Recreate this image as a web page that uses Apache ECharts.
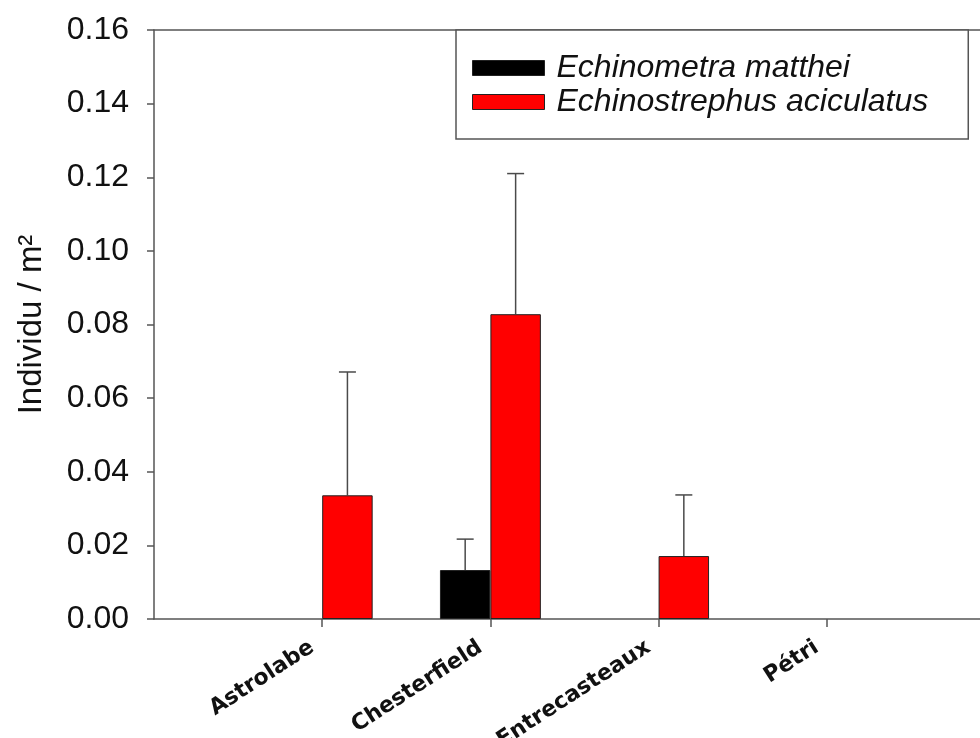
<!DOCTYPE html>
<html>
<head>
<meta charset="utf-8">
<script src="https://cdn.jsdelivr.net/npm/echarts@6/dist/echarts.min.js"></script>
<style>
html,body{margin:0;padding:0;background:#fff;}
#chart{width:980px;height:738px;}
</style>
</head>
<body>
<div id="chart"></div>
<script>
// Data
const sites = ['Astrolabe', 'Chesterfield', 'Entrecasteaux', 'Pétri'];
const seriesNames = ['Echinometra matthei', 'Echinostrephus aciculatus'];
const matthei = [0, 0.0133, 0, 0];
const mattheiErr = [0, 0.0084, 0, 0];
const aciculatus = [0.0336, 0.0828, 0.0171, 0];
const aciculatusErr = [0.0335, 0.0382, 0.0166, 0];
const yTicks = [0, 0.02, 0.04, 0.06, 0.08, 0.10, 0.12, 0.14, 0.16];
const yTitle = 'Individu / m²';

// axis categories padded with blank slots on both ends
const axisCats = [' '].concat(sites).concat(['  ']);

function barData(vals) {
  return vals.map((v, i) => v === 0
    ? { value: [i + 1, v], itemStyle: { borderWidth: 0 } }
    : [i + 1, v]);
}
function errData(vals, errs) { return vals.map((v, i) => [i + 1, v, errs[i]]); }

function errRenderer(sign) {
  return function (params, api) {
    const e = api.value(2);
    if (!e) return null;
    const idx = api.value(0), v = api.value(1);
    const band = api.size([1, 0])[0];
    const off = sign * band * 0.15;
    const p0 = api.coord([idx, v]);
    const p1 = api.coord([idx, v + e]);
    const x = p0[0] + off;
    const cap = 8.5;
    const st = { stroke: '#4a4a4a', lineWidth: 1.5 };
    return {
      type: 'group',
      children: [
        { type: 'line', shape: { x1: x, y1: p0[1], x2: x, y2: p1[1] }, style: st },
        { type: 'line', shape: { x1: x - cap, y1: p1[1], x2: x + cap, y2: p1[1] }, style: st }
      ]
    };
  };
}

const chart = echarts.init(document.getElementById('chart'));
const axisLineStyle = { color: '#555', width: 1.5 };
chart.setOption({
  animation: false,
  backgroundColor: '#fff',
  grid: { left: 154, top: 30, width: 841, height: 589, containLabel: false, outerBoundsMode: 'none' },
  legend: {
    data: seriesNames,
    orient: 'vertical',
    left: 456,
    top: 30,
    icon: 'rect',
    itemWidth: 72,
    itemHeight: 15,
    itemGap: 2,
    padding: [22, 40, 21, 16],
    borderColor: '#555',
    borderWidth: 1.5,
    backgroundColor: '#fff',
    textStyle: {
      fontFamily: 'Liberation Sans, Arial, sans-serif',
      fontStyle: 'italic',
      fontSize: 32,
      lineHeight: 28,
      color: '#111',
      padding: [0, 0, 0, 7]
    },
    itemStyle: { borderColor: '#222', borderWidth: 1 }
  },
  xAxis: [
    {
      type: 'category',
      data: axisCats,
      boundaryGap: false,
      position: 'bottom',
      axisLine: { show: true, lineStyle: axisLineStyle },
      axisTick: {
        show: true, length: 8, lineStyle: axisLineStyle,
        interval: function (index) { return index > 0 && index < axisCats.length - 1; }
      },
      axisLabel: {
        interval: 0,
        rotate: 33,
        margin: 20,
        padding: [0, 12, 0, 0],
        fontFamily: 'DejaVu Sans, sans-serif',
        fontWeight: 'bold',
        fontSize: 22,
        color: '#111'
      },
      splitLine: { show: false }
    },
    {
      type: 'category',
      data: axisCats,
      boundaryGap: false,
      position: 'top',
      axisLine: { show: true, lineStyle: axisLineStyle },
      axisTick: { show: false },
      axisLabel: { show: false },
      splitLine: { show: false }
    }
  ],
  yAxis: {
    type: 'value',
    min: yTicks[0],
    max: yTicks[yTicks.length - 1],
    interval: yTicks[1] - yTicks[0],
    name: yTitle,
    nameLocation: 'middle',
    nameGap: 106,
    nameTextStyle: {
      fontFamily: 'Liberation Sans, Arial, sans-serif',
      fontSize: 33,
      color: '#111'
    },
    axisLine: { show: true, lineStyle: axisLineStyle },
    axisTick: { show: true, inside: false, length: 7, lineStyle: axisLineStyle },
    axisLabel: {
      margin: 25,
      fontFamily: 'Liberation Sans, Arial, sans-serif',
      fontSize: 32,
      color: '#111',
      formatter: function (v) { return v.toFixed(2); }
    },
    splitLine: { show: false }
  },
  series: [
    {
      name: seriesNames[0],
      type: 'bar',
      data: barData(matthei),
      barWidth: '30%',
      barGap: '0%',
      itemStyle: { color: '#000000', borderColor: '#222', borderWidth: 1 }
    },
    {
      name: seriesNames[1],
      type: 'bar',
      data: barData(aciculatus),
      barWidth: '30%',
      barGap: '0%',
      itemStyle: { color: '#ff0000', borderColor: '#222', borderWidth: 1 }
    },
    {
      type: 'custom',
      renderItem: errRenderer(-1),
      data: errData(matthei, mattheiErr),
      z: 1
    },
    {
      type: 'custom',
      renderItem: errRenderer(1),
      data: errData(aciculatus, aciculatusErr),
      z: 1
    }
  ]
});
</script>
</body>
</html>
